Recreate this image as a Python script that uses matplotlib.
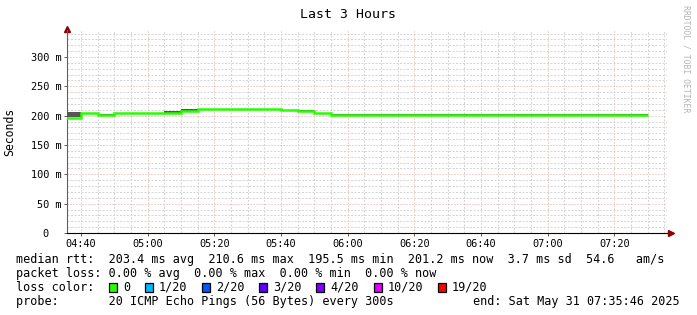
import datetime as dt

import matplotlib

matplotlib.use("Agg")
import matplotlib.dates as mdates
import matplotlib.pyplot as plt
from matplotlib.patches import Rectangle
from matplotlib.ticker import FuncFormatter, MultipleLocator

W, H = 697, 315
MONO = "DejaVu Sans Mono"

# ---- DATA ----
window_start = dt.datetime(2025, 5, 31, 4, 35, 46)
window_end = dt.datetime(2025, 5, 31, 7, 35, 46)
first_slot = dt.datetime(2025, 5, 31, 4, 35)
n_slots = 35
slot_edges = [first_slot + dt.timedelta(seconds=300 * i) for i in range(n_slots + 1)]

median_ms = [195.5, 204.0, 201.8, 204.2, 204.2, 204.2, 204.8, 208.6,
             210.6, 210.6, 210.6, 210.6, 210.6, 209.4, 208.2, 204.4,
             201.2, 201.2, 201.2, 201.2, 201.2, 201.2, 201.2, 201.2,
             201.2, 201.2, 201.2, 201.2, 201.2, 201.2, 201.2, 201.2,
             201.2, 201.2, 201.2]
smoke_lo = [198.0, 203.2, 201.0, 203.4, 203.4, 203.4, 204.0, 207.8,
            209.8, 209.8, 209.8, 209.8, 209.8, 208.6, 207.4, 203.6,
            200.4, 200.4, 200.4, 200.4, 200.4, 200.4, 200.4, 200.4,
            200.4, 200.4, 200.4, 200.4, 200.4, 200.4, 200.4, 200.4,
            200.4, 200.4, 200.4]
smoke_hi = [206.0, 204.8, 202.6, 205.0, 205.0, 205.0, 207.5, 211.5,
            211.4, 211.4, 211.4, 211.4, 211.4, 210.2, 209.0, 205.2,
            202.0, 202.0, 202.0, 202.0, 202.0, 202.0, 202.0, 202.0,
            202.0, 202.0, 202.0, 202.0, 202.0, 202.0, 202.0, 202.0,
            202.0, 202.0, 202.0]

loss_labels = ["0", "1/20", "2/20", "3/20", "4/20", "10/20", "19/20"]
loss_colors = ["#26ff00", "#00b8ff", "#0059ff", "#5e00ff", "#7e00ff", "#dd00ff", "#ff0000"]

rtt_line = "median rtt:  203.4 ms avg  210.6 ms max  195.5 ms min  201.2 ms now  3.7 ms sd  54.6   am/s"
loss_line = "packet loss: 0.00 % avg  0.00 % max  0.00 % min  0.00 % now"
probe_line = "probe:       20 ICMP Echo Pings (56 Bytes) every 300s"
end_line = "end: Sat May 31 07:35:46 2025"

# ---- FIGURE ----
fig = plt.figure(figsize=(W / 100, H / 100), dpi=100, facecolor="white")
ax = fig.add_axes([67 / W, (H - 233) / H, 600 / W, 203 / H])

edges = mdates.date2num(slot_edges)
ax.stairs(smoke_hi, edges, baseline=smoke_lo, fill=True, color="#555555", lw=0, zorder=3)
ax.stairs(median_ms, edges, baseline=None, color="#26ff00", lw=1.8, zorder=4)

ax.set_xlim(window_start, window_end)
ax.set_ylim(0, 346)

ax.xaxis.set_major_locator(mdates.MinuteLocator(byminute=[0, 20, 40]))
ax.xaxis.set_minor_locator(mdates.MinuteLocator(byminute=range(0, 60, 5)))
ax.xaxis.set_major_formatter(mdates.DateFormatter("%H:%M"))
ax.yaxis.set_major_locator(MultipleLocator(50))
ax.yaxis.set_minor_locator(MultipleLocator(10))
ax.yaxis.set_major_formatter(FuncFormatter(lambda v, p: "0  " if v == 0 else f"{v:.0f} m"))

ax.grid(which="minor", color="#d6d6d6", lw=0.72, ls=(0, (2, 1.5)), zorder=1)
ax.grid(which="major", color="#eaa6a6", lw=0.72, ls=(0, (1, 2)), zorder=2)

for s in ("top", "right"):
    ax.spines[s].set_visible(False)
ax.spines["left"].set_color("#606060")
ax.spines["left"].set_linewidth(0.8)
ax.spines["bottom"].set_color("black")
ax.spines["bottom"].set_linewidth(0.8)

ax.tick_params(which="major", length=2, width=0.7, color="#606060", pad=2,
               labelsize=7.4, labelfontfamily=MONO)
ax.tick_params(which="minor", length=0)

# axis arrows
ax.plot([1.0, 1 + 2 / 600], [0, 0], transform=ax.transAxes, color="black", lw=0.8, clip_on=False)
ax.plot([1 + 4 / 600], [0], ">", transform=ax.transAxes, color="#8b0000", ms=4.5, clip_on=False)
ax.plot([0], [1 + 1 / 203], "^", transform=ax.transAxes, color="#8b0000", ms=4.5, clip_on=False)

# ---- TEXT ----
fig.text(348 / W, 1 - 14 / H, "Last 3 Hours", ha="center", va="center", family=MONO, fontsize=9.5)
fig.text(10 / W, 1 - 131.5 / H, "Seconds", rotation=90, ha="center", va="center",
         family=MONO, fontsize=8.3)
fig.text(686 / W, 1 - 5 / H, "RRDTOOL / TOBI OETIKER", rotation=270, ha="center", va="top",
         family=MONO, fontsize=5.9, color="#b4b4b4")

x0 = 16
cw = 7.14
leg_kw = dict(ha="left", va="center", family=MONO, fontsize=8.5)
fig.text(x0 / W, 1 - 259.3 / H, rtt_line, **leg_kw)
fig.text(x0 / W, 1 - 273.3 / H, loss_line, **leg_kw)
fig.text(x0 / W, 1 - 287.3 / H, "loss color:", **leg_kw)
fig.text(x0 / W, 1 - 301.3 / H, probe_line, **leg_kw)
fig.text(680 / W, 1 - 301.3 / H, end_line, ha="right", va="center", family=MONO, fontsize=8.5)

col = 13
for lab, colr in zip(loss_labels, loss_colors):
    bx = x0 + col * cw + 0.5
    fig.patches.append(Rectangle((bx / W, 1 - 292 / H), 8 / W, 9 / H, transform=fig.transFigure,
                                 facecolor=colr, edgecolor="black", lw=0.9))
    fig.text((x0 + (col + 2) * cw) / W, 1 - 287.3 / H, lab, **leg_kw)
    col += 2 + len(lab) + 2

fig.savefig("out.png", dpi=100, facecolor="white")
